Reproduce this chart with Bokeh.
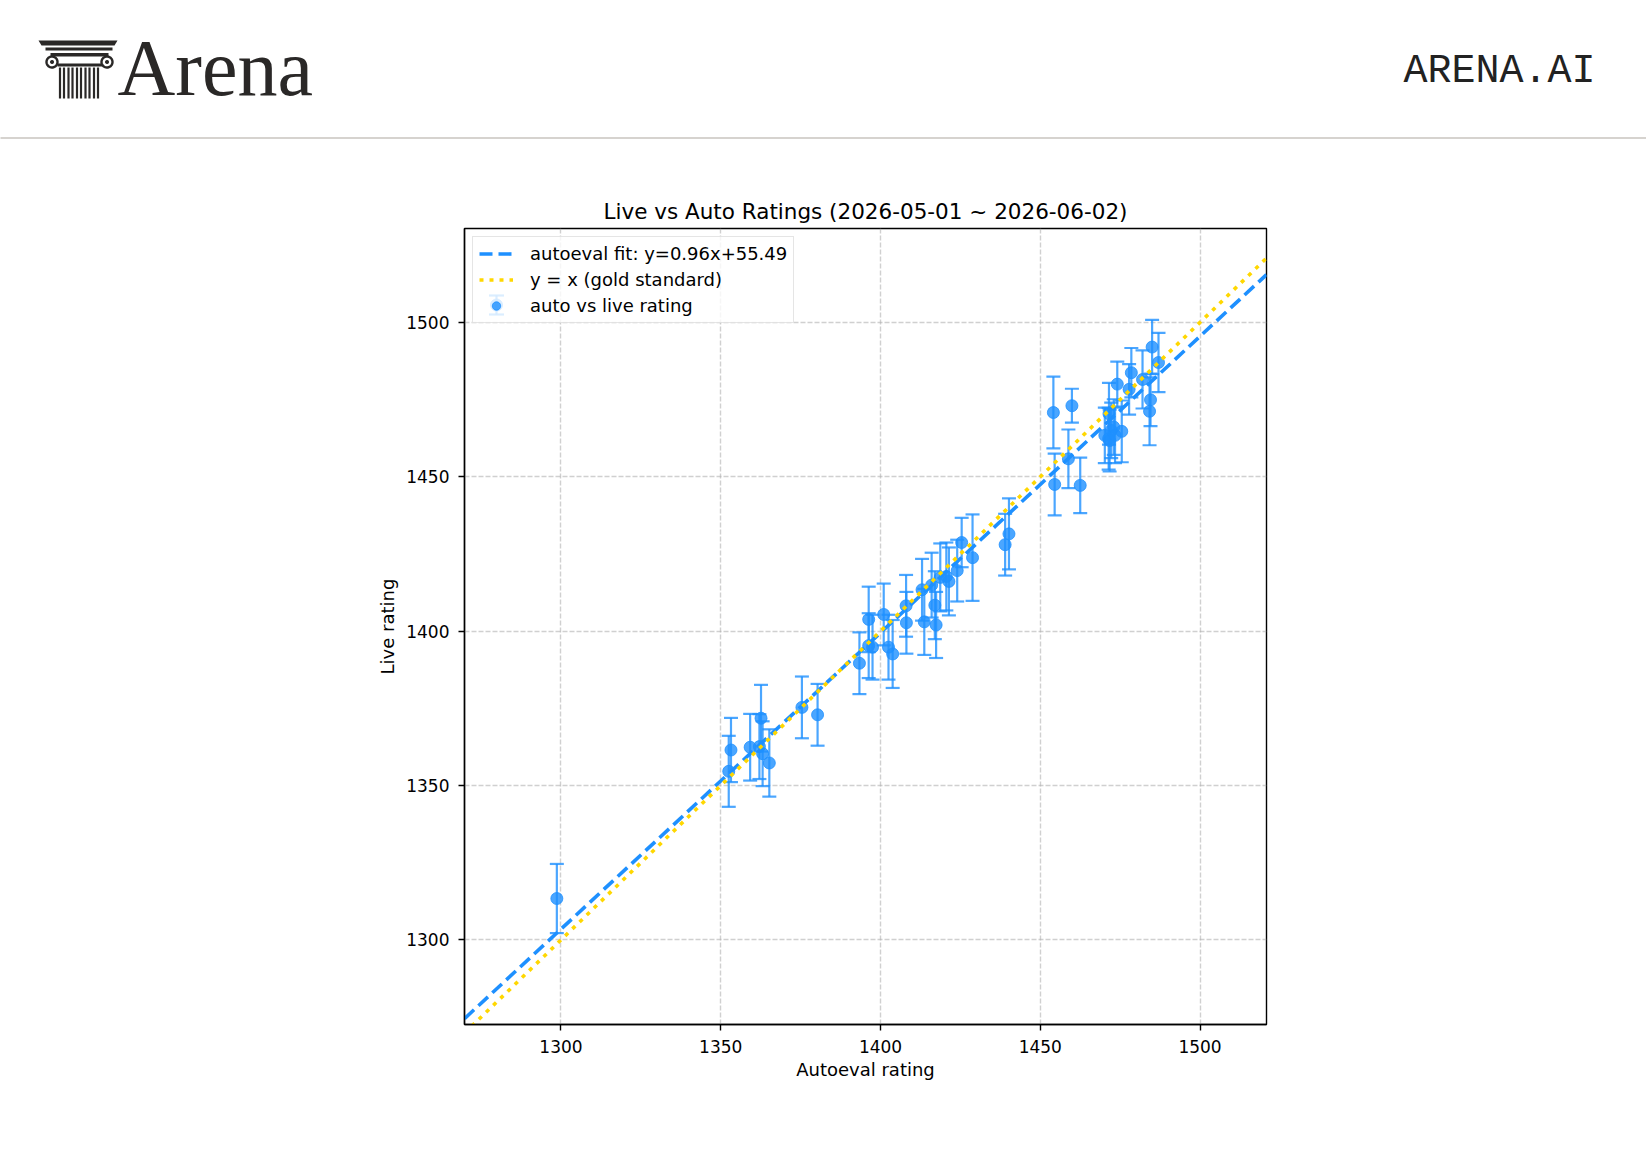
import numpy as np
from bokeh.plotting import figure
from bokeh.models import Range1d, Legend, LegendItem, ColumnDataSource, FixedTicker, Label, Title
from bokeh.embed import file_html
from bokeh.resources import INLINE

# ---------------- data ----------------
auto_rating = [1298.7, 1352.5, 1353.2, 1359.2, 1362.6, 1362.1, 1363.1, 1365.2, 1375.4, 1380.3,
               1393.4, 1396.3, 1397.5, 1396.3, 1401.0, 1402.5, 1403.8, 1408.0, 1408.1, 1413.0,
               1413.7, 1416.0, 1417.0, 1417.4, 1418.7, 1420.6, 1421.4, 1424.0, 1425.4, 1428.8,
               1439.0, 1440.2, 1454.1, 1459.9, 1454.5, 1458.8, 1462.5, 1470.2, 1471.4, 1471.7,
               1472.2, 1471.5, 1473.0, 1473.4, 1475.5, 1474.1, 1477.8, 1478.5, 1482.0, 1484.5,
               1484.2, 1485.0, 1487.0]
live_rating = [1313.4, 1354.6, 1361.5, 1362.4, 1371.8, 1362.6, 1360.3, 1357.3, 1375.3, 1372.9,
               1389.6, 1395.3, 1394.8, 1403.8, 1405.4, 1394.8, 1392.6, 1408.2, 1402.7, 1413.4,
               1403.0, 1414.9, 1408.4, 1402.0, 1417.4, 1417.7, 1416.1, 1419.6, 1428.7, 1423.8,
               1428.0, 1431.5, 1470.8, 1473.0, 1447.5, 1455.8, 1447.2, 1463.4, 1462.3, 1461.7,
               1465.0, 1470.4, 1466.1, 1463.4, 1464.7, 1480.0, 1478.3, 1483.7, 1481.5, 1474.9,
               1471.2, 1492.0, 1487.0]
live_err = [11.2, 11.5, 10.4, 10.8, 10.8, 10.5, 10.5, 10.9, 10.0, 10.0,
            10.0, 10.5, 10.5, 10.6, 10.0, 10.5, 11.0, 10.0, 10.0, 10.0,
            10.7, 10.5, 11.0, 10.7, 11.0, 11.0, 11.0, 10.0, 8.0, 14.0,
            10.0, 11.5, 11.6, 5.5, 10.0, 9.5, 9.0, 9.0, 10.0, 10.0,
            9.0, 10.0, 9.0, 9.0, 10.0, 7.3, 8.2, 8.0, 9.4, 8.5,
            11.0, 8.8, 9.6]

fit_slope = 0.96
fit_intercept = 55.49
x_limits = [1269.8, 1520.8]
y_limits = [1272.6, 1530.4]
x_ticks = [1300, 1350, 1400, 1450, 1500]
y_ticks = [1300, 1350, 1400, 1450, 1500]
title_text = "Live vs Auto Ratings (2026-05-01 ~ 2026-06-02)"
x_label = "Autoeval rating"
y_label = "Live rating"
fit_label = f"autoeval fit: y={fit_slope:.2f}x+{fit_intercept:.2f}"
gold_label = "y = x (gold standard)"
pts_label = "auto vs live rating"
brand_name = "Arena"
brand_site = "ARENA.AI"

BLUE = "#1E90FF"
GOLD = "#FFD700"
FONT = "DejaVu Sans"
INK = "#2a2827"

# ---------------- layout (pixels) ----------------
W, H = 1646, 1160
FL, FT, FW, FH = 464, 228, 802, 796


def dx(px):
    return x_limits[0] + (px - FL) * (x_limits[1] - x_limits[0]) / FW


def dy(py):
    return y_limits[1] - (py - FT) * (y_limits[1] - y_limits[0]) / FH


p = figure(width=W, height=H, x_range=Range1d(*x_limits), y_range=Range1d(*y_limits),
           output_backend="svg", toolbar_location=None,
           min_border_left=FL, min_border_right=W - FL - FW,
           min_border_top=FT, min_border_bottom=H - FT - FH)
p.title.visible = False
p.background_fill_color = "white"
p.border_fill_color = "white"
p.outline_line_color = "black"
p.outline_line_width = 1.4

main_title = Title(text=title_text, align="center", text_font=FONT, text_font_size="21.5px",
                   text_font_style="normal", text_color="black", standoff=10)
p.add_layout(main_title, "above")

for ax, lab, tk in [(p.xaxis[0], x_label, x_ticks), (p.yaxis[0], y_label, y_ticks)]:
    ax.ticker = FixedTicker(ticks=tk)
    ax.axis_label = lab
    ax.axis_label_text_font = FONT
    ax.axis_label_text_font_size = "18px"
    ax.axis_label_text_font_style = "normal"
    ax.axis_label_text_color = "black"
    ax.major_label_text_font = FONT
    ax.major_label_text_font_size = "17px"
    ax.major_label_text_color = "black"
    ax.major_tick_out = 6
    ax.major_tick_in = 0
    ax.minor_tick_out = 0
    ax.minor_tick_in = 0
    ax.major_tick_line_width = 1.4
    ax.major_tick_line_color = "black"
    ax.axis_line_width = 1.4
    ax.axis_line_color = "black"
    ax.major_label_standoff = 9
p.xaxis.axis_label_standoff = 3
p.yaxis.axis_label_standoff = 5

p.xgrid.ticker = FixedTicker(ticks=x_ticks)
p.ygrid.ticker = FixedTicker(ticks=y_ticks)
p.grid.grid_line_color = "#b0b0b0"
p.grid.grid_line_alpha = 0.6
p.grid.grid_line_width = 1.4
p.grid.grid_line_dash = "5 2"

auto = np.array(auto_rating)
live = np.array(live_rating)
err = np.array(live_err)
src = ColumnDataSource(dict(x=auto, y=live, lo=live - err, hi=live + err))

p.segment(x0="x", y0="lo", x1="x", y1="hi", source=src, line_color=BLUE, line_alpha=0.8, line_width=2.2)
p.scatter(x="x", y="hi", source=src, marker="dash", size=14, line_color=BLUE, line_alpha=0.8, line_width=2.2)
p.scatter(x="x", y="lo", source=src, marker="dash", size=14, line_color=BLUE, line_alpha=0.8, line_width=2.2)
pts = p.scatter(x="x", y="y", source=src, marker="circle", size=12, fill_color=BLUE, fill_alpha=0.8,
                line_color=BLUE, line_alpha=0.8, line_width=1)

line_x = np.array(x_limits)
fit_r = p.line(line_x, fit_slope * line_x + fit_intercept, line_color=BLUE, line_width=3.6, line_dash="13 6")
gold_r = p.line(line_x, line_x, line_color=GOLD, line_width=3.6, line_dash="4 6")

LG_MARGIN, LG_PAD, LG_SPACING, LG_GW, LG_GH = 8, 6, 5, 34, 21
legend = Legend(items=[LegendItem(label=fit_label, renderers=[fit_r]),
                       LegendItem(label=gold_label, renderers=[gold_r]),
                       LegendItem(label=pts_label, renderers=[pts])],
                location="top_left")
legend.margin = LG_MARGIN
legend.padding = LG_PAD
legend.spacing = LG_SPACING
legend.glyph_width = LG_GW
legend.glyph_height = LG_GH
legend.label_height = LG_GH
legend.label_standoff = 17
legend.label_text_font = FONT
legend.label_text_font_size = "18px"
legend.label_text_color = "black"
legend.border_line_color = "#cccccc"
legend.border_line_width = 1
legend.background_fill_alpha = 0.8
legend.level = "glyph"
p.add_layout(legend)

# error-bar style legend symbol, drawn over the third legend glyph slot
icon_px = FL + LG_MARGIN + LG_PAD + LG_GW / 2 + 1
icon_py = FT + LG_MARGIN + LG_PAD + 2 * (LG_GH + LG_SPACING) + LG_GH / 2
icon = []
icon.append(p.segment(x0=[dx(icon_px)], y0=[dy(icon_py - 9.5)], x1=[dx(icon_px)], y1=[dy(icon_py + 9.5)],
                      line_color=BLUE, line_alpha=0.8, line_width=2.2))
icon.append(p.scatter(x=[dx(icon_px), dx(icon_px)], y=[dy(icon_py - 9.5), dy(icon_py + 9.5)], marker="dash",
                      size=15, line_color=BLUE, line_alpha=0.8, line_width=2.2))
icon.append(p.scatter(x=[dx(icon_px)], y=[dy(icon_py)], marker="circle", size=12, fill_color=BLUE,
                      fill_alpha=0.8, line_color=BLUE, line_alpha=0.8, line_width=1))
for r in icon:
    r.level = "overlay"

# ---------------- header (outside the frame, overlay level) ----------------
hdr = []
slab = [(38, 40), (117, 40), (114, 45), (41, 45)]
hdr.append(p.patch([dx(a) for a, b in slab], [dy(b) for a, b in slab], fill_color=INK, line_color=None))
hdr.append(p.quad(left=[dx(45)], right=[dx(112)], top=[dy(47)], bottom=[dy(50)], fill_color=INK, line_color=None))
hdr.append(p.quad(left=[dx(50)], right=[dx(108)], top=[dy(52.5)], bottom=[dy(56)], fill_color=INK, line_color=None))
hdr.append(p.quad(left=[dx(57)], right=[dx(102)], top=[dy(63)], bottom=[dy(66)], fill_color=INK, line_color=None))
ang = np.linspace(0, 2 * np.pi, 40)
for cxp in (51.5, 106.5):
    hdr.append(p.line([dx(cxp + 5.5 * np.cos(t)) for t in ang], [dy(61.5 + 5.5 * np.sin(t)) for t in ang],
                      line_color=INK, line_width=2.4))
    hdr.append(p.patch([dx(cxp + 2.0 * np.cos(t)) for t in ang], [dy(61.5 + 2.0 * np.sin(t)) for t in ang],
                       fill_color=INK, line_color=None))
flute_px = [59.5, 63.5, 68, 72, 76.5, 80.5, 85, 89, 93.5, 97.5]
hdr.append(p.segment(x0=[dx(v) for v in flute_px], y0=[dy(67)] * len(flute_px),
                     x1=[dx(v) for v in flute_px], y1=[dy(98)] * len(flute_px),
                     line_color=INK, line_width=2.2))
hdr.append(p.segment(x0=[dx(0)], y0=[dy(137.5)], x1=[dx(W)], y1=[dy(137.5)],
                     line_color="#c8c4bf", line_width=1.5))
for r in hdr:
    r.level = "overlay"

lab_brand = Label(x=dx(117), y=dy(67.5), text=brand_name, text_font="Liberation Serif",
                  text_font_size="80px", text_color=INK, text_baseline="middle", text_align="left",
                  level="overlay")
lab_site = Label(x=dx(1595), y=dy(70.5), text=brand_site, text_font="Liberation Mono",
                 text_font_size="40px", text_color="#222222", text_baseline="middle", text_align="right",
                 level="overlay")
p.add_layout(lab_brand, "above")
p.add_layout(lab_site, "above")

open("out.html", "w").write(file_html(p, INLINE))
